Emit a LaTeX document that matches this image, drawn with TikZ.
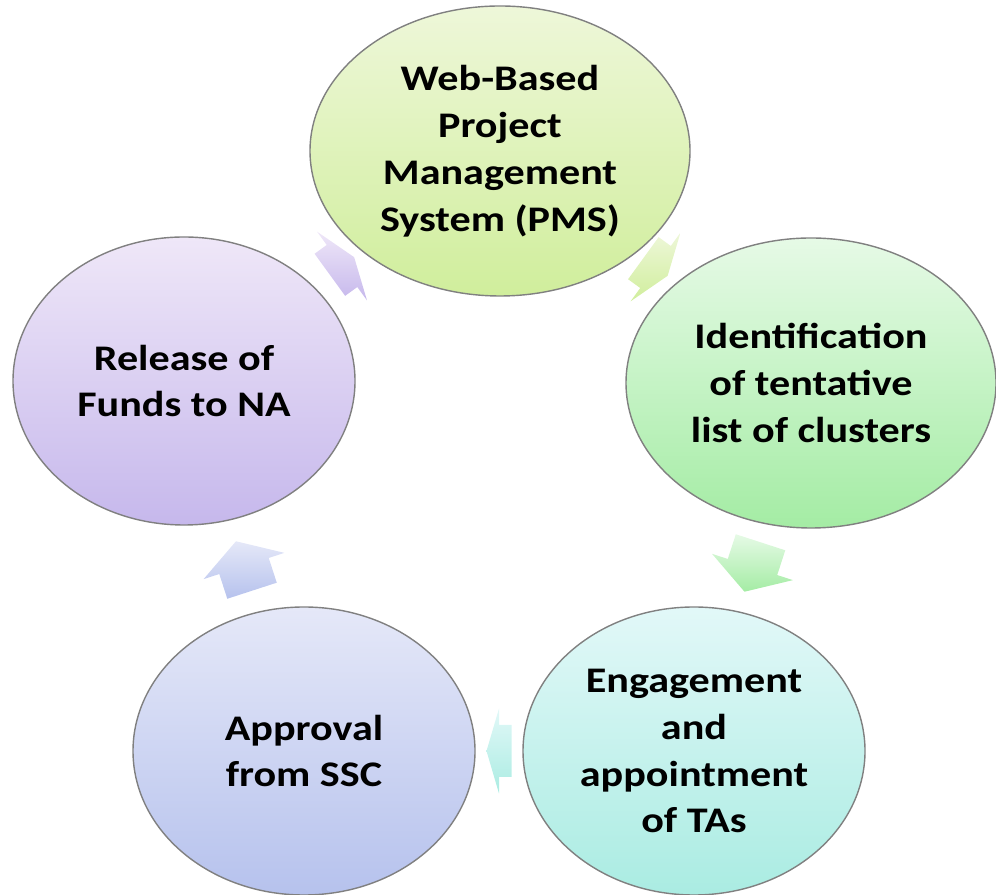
\documentclass[tikz,border=0pt]{standalone}
\usepackage{fontspec}
\setmainfont{Carlito}[FakeStretch=1.17]
\usetikzlibrary{calc,shapes.geometric}

\definecolor{pmstop}{RGB}{238,247,217}
\definecolor{pmsbot}{RGB}{208,238,156}
\definecolor{idtop}{RGB}{230,250,230}
\definecolor{idbot}{RGB}{164,236,164}
\definecolor{tatop}{RGB}{226,248,248}
\definecolor{tabot}{RGB}{170,236,226}
\definecolor{ssctop}{RGB}{229,232,248}
\definecolor{sscbot}{RGB}{182,194,237}
\definecolor{natop}{RGB}{239,231,248}
\definecolor{nabot}{RGB}{198,184,236}

\newcommand\stagefont{\fontsize{20.5}{26.7}\selectfont\bfseries}

\tikzset{
	stage/.style={ellipse, draw=black!50, line width=0.8pt, align=center,
		inner sep=0pt, font=\stagefont, minimum width=6.84cm, minimum height=5.76cm}
}

% block arrow half way between two stages: [colours](from)(to)(angle:length)
\def\cyclearrow[#1](#2)(#3)(#4:#5){\shade[#1, shift={($(#2)!0.5!(#3)$)}, rotate=#4] (-#5/2, -0.52) -- (0, -0.52) -- (0, -0.85) -- (#5/2, 0) -- (0, 0.85) -- (0, 0.52) -- (-#5/2, 0.52) -- cycle;}

\begin{document}
\begin{tikzpicture}
	%%%%% START %%%%%
	\useasboundingbox (0, 0) rectangle (19.92, 17.9);

	\node[stage, minimum width=7.6cm, minimum height=5.8cm, top color=pmstop, bottom color=pmsbot] (pms) at (10, 14.88) {Web-Based\\Project\\Management\\System (PMS)};
	\node[stage, minimum width=7.4cm, minimum height=5.8cm, top color=idtop, bottom color=idbot] (clusters) at (16.22, 10.24) {Identification\\of tentative\\list of clusters};
	\node[stage, top color=tatop, bottom color=tabot] (tas) at (13.88, 2.88) {Engagement\\and\\appointment\\of TAs};
	\node[stage, top color=ssctop, bottom color=sscbot] (ssc) at (6.08, 2.88) {Approval\\from SSC};
	\node[stage, top color=natop, bottom color=nabot] (funds) at (3.68, 10.28) {Release of\\Funds to NA};

	% arrows round the cycle
	\cyclearrow[top color=natop, bottom color=nabot](funds)(pms)(36:0.6);
	\cyclearrow[top color=pmstop, bottom color=pmsbot](pms)(clusters)(-36:0.6);
	\cyclearrow[top color=idtop, bottom color=idbot](clusters)(tas)(-108:1.04);
	\cyclearrow[top color=tatop, bottom color=tabot](tas)(ssc)(180:0.5);
	\cyclearrow[top color=ssctop, bottom color=sscbot](ssc)(funds)(108:1.04);

	%%%%% END %%%%%
\end{tikzpicture}
\end{document}
